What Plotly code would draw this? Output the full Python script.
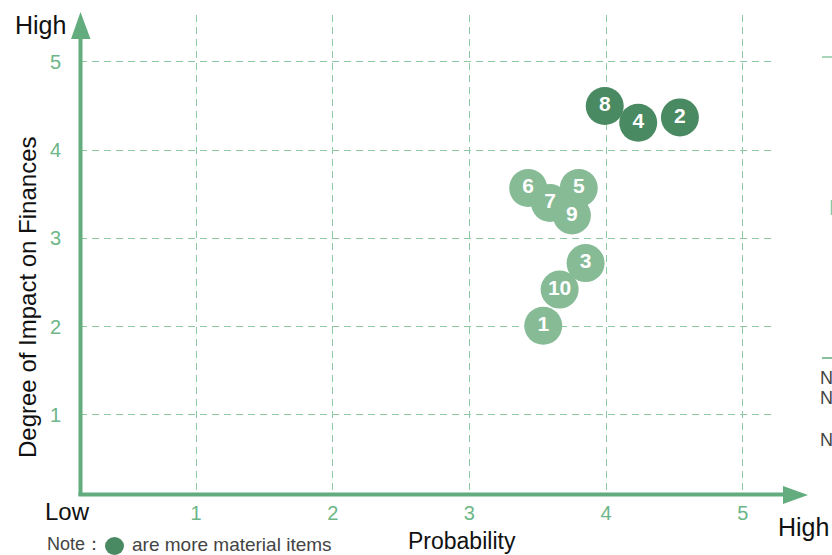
import plotly.graph_objects as go

# Risk items: probability (x) vs degree of impact on finances (y)
item_ids = [1, 2, 3, 4, 5, 6, 7, 8, 9, 10]
probability = [3.54, 4.54, 3.85, 4.235, 3.80, 3.43, 3.59, 3.99, 3.75, 3.66]
impact = [2.01, 4.37, 2.72, 4.31, 3.57, 3.57, 3.40, 4.50, 3.26, 2.42]
more_material = [False, True, False, True, False, False, False, True, False, False]

tick_vals = [1, 2, 3, 4, 5]
tick_text = ["1", "2", "3", "4", "5"]

DARK = "#4a8a62"
LIGHT = "#86bb96"
AXIS = "#62ac7e"
TICK = "#6cb687"
GRID = "#8cc8a2"
FONT = "Liberation Sans, Arial, sans-serif"

W, H = 832, 555
L, R, T, B = 80, 56, 15, 61
PW, PH = W - L - R, H - T - B


def px(xp):
    return (xp - L) / PW


def py(yp):
    return (H - B - yp) / PH


fig = go.Figure()
for flag, color in [(False, LIGHT), (True, DARK)]:
    sel = [i for i, m in enumerate(more_material) if m == flag]
    fig.add_trace(go.Scatter(
        x=[probability[i] for i in sel],
        y=[impact[i] for i in sel],
        text=[str(item_ids[i]) for i in sel],
        mode="markers+text",
        marker=dict(size=38, color=color, line=dict(width=0), opacity=1),
        textposition="middle center",
        textfont=dict(family=FONT, size=21, color="white", weight="bold"),
        hoverinfo="skip",
        showlegend=False,
        cliponaxis=False,
    ))

axis_common = dict(
    tickvals=tick_vals, ticktext=tick_text, showgrid=True, gridcolor=GRID,
    griddash="7px,5px", gridwidth=1.3, zeroline=False, showline=False, ticks="",
    tickfont=dict(family=FONT, size=20, color=TICK),
)
fig.update_xaxes(range=[0.151, 5.243], ticklabelstandoff=5, **axis_common)
fig.update_yaxes(range=[0.105, 5.53], ticklabelstandoff=18, **axis_common)

shapes = [
    # y axis shaft and arrow head
    dict(type="line", xref="paper", yref="paper", x0=px(80.5), x1=px(80.5),
         y0=py(496), y1=py(36), line=dict(color=AXIS, width=4)),
    dict(type="path", xref="paper", yref="paper",
         path=f"M {px(80.5)} {py(12)} L {px(71)} {py(39)} L {px(90.5)} {py(39)} Z",
         fillcolor=AXIS, line=dict(width=0)),
    # x axis shaft and arrow head
    dict(type="line", xref="paper", yref="paper", x0=px(78.5), x1=px(786),
         y0=py(494.5), y1=py(494.5), line=dict(color=AXIS, width=4)),
    dict(type="path", xref="paper", yref="paper",
         path=f"M {px(808)} {py(495)} L {px(783)} {py(486)} L {px(783)} {py(504)} Z",
         fillcolor=AXIS, line=dict(width=0)),
    # note marker
    dict(type="circle", xref="paper", yref="paper",
         x0=px(105), x1=px(124), y0=py(537), y1=py(555),
         fillcolor=DARK, line=dict(width=0)),
    # neighbouring panel edge
    dict(type="line", xref="paper", yref="paper", x0=px(822), x1=px(834),
         y0=py(57), y1=py(57), line=dict(color=GRID, width=1.5)),
    dict(type="line", xref="paper", yref="paper", x0=px(822), x1=px(834),
         y0=py(358), y1=py(358), line=dict(color=AXIS, width=1.5)),
    dict(type="line", xref="paper", yref="paper", x0=px(831.5), x1=px(831.5),
         y0=py(200), y1=py(215), line=dict(color=GRID, width=1.5)),
]
fig.update_layout(shapes=shapes)

ann = [
    dict(text="High", x=px(40), y=py(25), size=25, color="#111"),
    dict(text="Low", x=px(67), y=py(512), size=24, color="#111"),
    dict(text="High", x=px(803), y=py(527), size=25, color="#111"),
    dict(text="Probability", x=px(462), y=py(541), size=23, color="#111"),
]
annotations = [
    dict(text=a["text"], x=a["x"], y=a["y"], xref="paper", yref="paper",
         showarrow=False, xanchor="center", yanchor="middle",
         font=dict(family=FONT, size=a["size"], color=a["color"]))
    for a in ann
]
annotations.append(dict(
    text="Degree of Impact on Finances", x=px(27), y=py(297), xref="paper",
    yref="paper", showarrow=False, textangle=-90, xanchor="center",
    yanchor="middle", font=dict(family=FONT, size=24, color="#111")))
annotations.append(dict(
    text="Note：", x=px(45), y=py(544), xref="paper", yref="paper",
    showarrow=False, xanchor="left", yanchor="middle",
    font=dict(family=FONT, size=18, color="#444")))
annotations.append(dict(
    text="are more material items", x=px(130), y=py(544), xref="paper",
    yref="paper", showarrow=False, xanchor="left", yanchor="middle",
    font=dict(family=FONT, size=19, color="#444")))
for yy in [378, 398, 440]:
    annotations.append(dict(
        text="N", x=px(818), y=py(yy), xref="paper", yref="paper",
        showarrow=False, xanchor="left", yanchor="middle",
        font=dict(family=FONT, size=18, color="#444")))

fig.update_layout(
    width=W, height=H,
    margin=dict(l=L, r=R, t=T, b=B, pad=0),
    paper_bgcolor="white", plot_bgcolor="white",
    annotations=annotations,
)

fig.write_html("out.html")
